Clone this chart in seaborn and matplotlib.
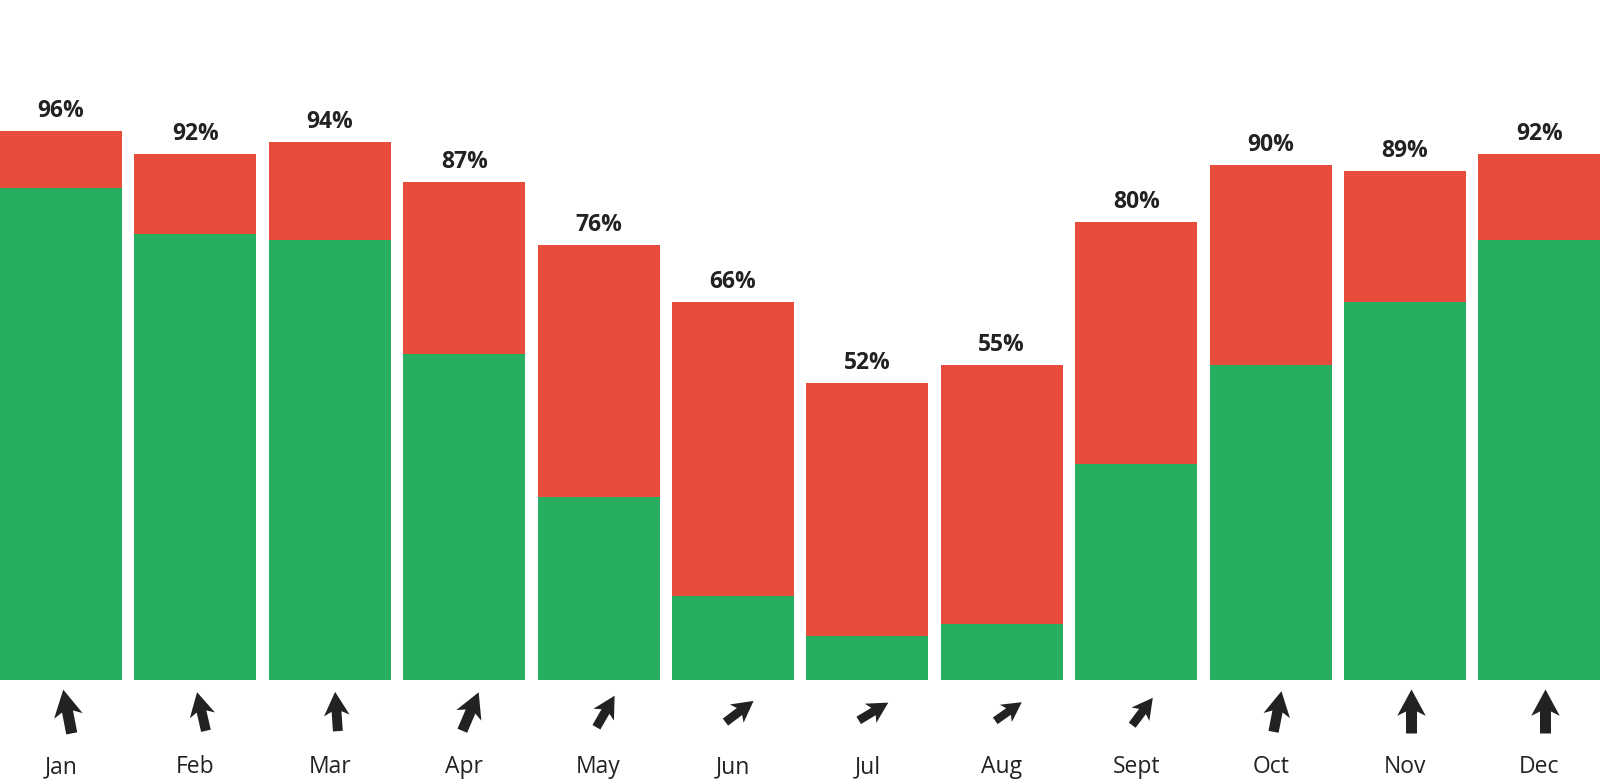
import numpy as np
import pandas as pd
import matplotlib
matplotlib.use("Agg")
import matplotlib.pyplot as plt
from matplotlib.transforms import ScaledTranslation
import seaborn as sns

# ---------------- data ----------------
months = ['Jan', 'Feb', 'Mar', 'Apr', 'May', 'Jun', 'Jul', 'Aug', 'Sept', 'Oct', 'Nov', 'Dec']
total_pct = [96, 92, 94, 87, 76, 66, 52, 55, 80, 90, 89, 92]
green_pct = [86, 78, 77, 57, 32, 14.7, 7.7, 9.8, 37.7, 55, 66, 77]
pct_labels = ['96%', '92%', '94%', '87%', '76%', '66%', '52%', '55%', '80%', '90%', '89%', '92%']
wind_dir_deg = [-11, -13, -4, 23, 30, 53, 59, 55, 37, 11, 0, 0]   # clockwise from north
wind_speed = [44.6, 39.6, 39.4, 41.8, 36.4, 35.2, 34.5, 32.4, 34.3, 41.4, 44, 44]

# ---------------- style ----------------
sns.set_theme(style="white")
plt.rcParams['font.family'] = ['Open Sans', 'DejaVu Sans']

RED = '#E84C3D'
GREEN = '#27AE60'
TEXT = '#222222'

W, H, DPI = 1604, 784, 100
fig = plt.figure(figsize=(W / DPI, H / DPI), dpi=DPI)
fig.patch.set_facecolor('white')

bottom_px = 680          # bar baseline (px from top)
px_per_pct = 5.72
pitch_px = 134.4
bar_w = 122 / pitch_px
span_px = (11 + bar_w) * pitch_px

ax = fig.add_axes([0, (H - bottom_px) / H, span_px / W, bottom_px / H])
df = pd.DataFrame({'month': months, 'total': total_pct, 'green': green_pct})
sns.barplot(data=df, x='month', y='total', color=RED, saturation=1, width=bar_w,
            linewidth=0, ax=ax, order=months)
sns.barplot(data=df, x='month', y='green', color=GREEN, saturation=1, width=bar_w,
            linewidth=0, ax=ax, order=months)
ax.set_xlim(-bar_w / 2, 11 + bar_w / 2)
ax.set_ylim(0, bottom_px / px_per_pct)
ax.axis('off')

for i, (t, lab) in enumerate(zip(total_pct, pct_labels)):
    ax.annotate(lab, xy=(i, t), xytext=(0, 14), textcoords='offset pixels',
                ha='center', va='baseline', fontsize=16.5, fontweight='bold', color=TEXT)

# bottom strip: wind arrows + month names
ax2 = fig.add_axes([0, 0, span_px / W, (H - bottom_px) / H])
ax2.set_xlim(-bar_w / 2, 11 + bar_w / 2)
ax2.set_ylim(0, H - bottom_px)
ax2.axis('off')

shift = ax2.transData + ScaledTranslation(6 / DPI, 0, fig.dpi_scale_trans)
for i, (d, s) in enumerate(zip(wind_dir_deg, wind_speed)):
    th = np.deg2rad(d)
    u, v = s * np.sin(th), s * np.cos(th)
    ax2.quiver([i], [H - 711], [u], [v], angles='uv', scale_units='dots', scale=1,
               units='dots', width=0.25 * s, headwidth=2.6, headlength=2.4,
               headaxislength=2.0, pivot='middle', color=TEXT, transform=shift)

for i, m in enumerate(months):
    ax2.text(i, H - 773, m, ha='center', va='baseline', fontsize=16.5, color=TEXT)

fig.savefig('out.png', dpi=DPI, facecolor='white')
